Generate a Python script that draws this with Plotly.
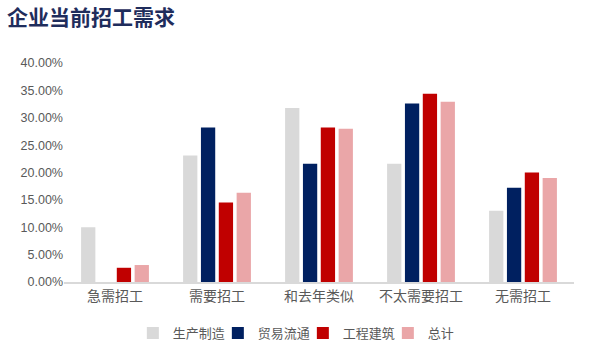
import plotly.graph_objects as go

categories = ["急需招工", "需要招工", "和去年类似", "不太需要招工", "无需招工"]
manufacturing = [0.100, 0.231, 0.318, 0.216, 0.130]
trade = [0.0, 0.282, 0.216, 0.326, 0.172]
construction = [0.026, 0.145, 0.282, 0.344, 0.200]
total = [0.031, 0.163, 0.280, 0.329, 0.190]

series = [
    ("生产制造", manufacturing, "#D9D9D9"),
    ("贸易流通", trade, "#002060"),
    ("工程建筑", construction, "#C00000"),
    ("总计", total, "#EAA6A8"),
]

fig = go.Figure()
for name, vals, color in series:
    fig.add_trace(go.Bar(x=categories, y=vals, name=name, marker_color=color,
                         marker_line_width=0))

fig.update_layout(
    width=593, height=360,
    margin=dict(l=64, r=19, t=63, b=78, autoexpand=False),
    paper_bgcolor="white", plot_bgcolor="white",
    barmode="group", bargap=0.3, bargroupgap=0.2,
    font=dict(family="Noto Sans CJK SC, sans-serif", color="#595959", size=12),
    title=dict(text="<b>企业当前招工需求</b>", x=0.012, xanchor="left", y=0.952, yanchor="middle",
               font=dict(size=21, color="#1F2D5C", family="Noto Sans CJK SC")),
    legend=dict(orientation="h", x=0.135, xanchor="left", y=-0.233, yanchor="middle",
                font=dict(size=13, color="#595959"), entrywidth=40, entrywidthmode="pixels",
                itemwidth=30, traceorder="normal"),
    showlegend=True,
)
fig.update_yaxes(range=[0, 0.4], dtick=0.05, tickformat=".2%", showgrid=False,
                 zeroline=False, showline=False, ticks="", automargin=False,
                 tickfont=dict(size=12.5, family="Liberation Sans, Arial", color="#595959"))
fig.update_xaxes(showline=True, linecolor="#D9D9D9", linewidth=1.5, ticks="", automargin=False,
                 tickfont=dict(size=14, color="#595959"))

fig.write_html("out.html", config={"displayModeBar": False},
               post_script="document.body.style.margin='0';document.body.style.overflow='hidden';")
